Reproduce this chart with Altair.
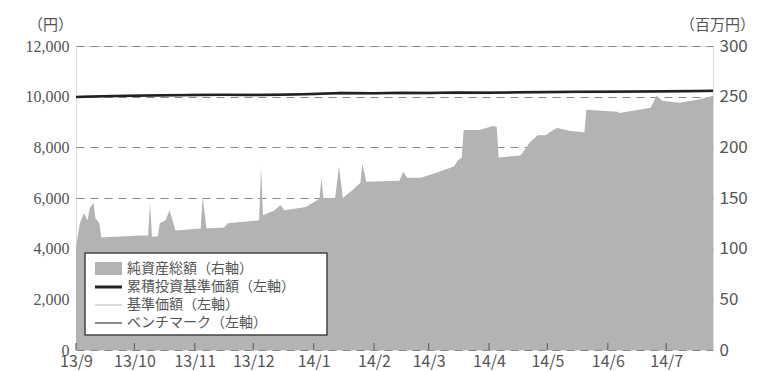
import altair as alt
import pandas as pd

# ---- data ----
area_dates = [
    "2013-09-01", "2013-09-03", "2013-09-05", "2013-09-07", "2013-09-08", "2013-09-10",
    "2013-09-11", "2013-09-13", "2013-09-14", "2013-09-24", "2013-10-04", "2013-10-08",
    "2013-10-09", "2013-10-10", "2013-10-13", "2013-10-14", "2013-10-17", "2013-10-19",
    "2013-10-21", "2013-10-22", "2013-11-04", "2013-11-05", "2013-11-07", "2013-11-16",
    "2013-11-18", "2013-11-29", "2013-12-04", "2013-12-05", "2013-12-06", "2013-12-12",
    "2013-12-15", "2013-12-17", "2013-12-28", "2014-01-03", "2014-01-04", "2014-01-05",
    "2014-01-06", "2014-01-12", "2014-01-14", "2014-01-16", "2014-01-21", "2014-01-25",
    "2014-01-26", "2014-01-28", "2014-02-14", "2014-02-16", "2014-02-18", "2014-02-25",
    "2014-03-05", "2014-03-14", "2014-03-16", "2014-03-18", "2014-03-19", "2014-03-27",
    "2014-04-03", "2014-04-05", "2014-04-06", "2014-04-17", "2014-04-18", "2014-04-22",
    "2014-04-26", "2014-04-30", "2014-05-04", "2014-05-06", "2014-05-13", "2014-05-20",
    "2014-05-21", "2014-06-06", "2014-06-07", "2014-06-23", "2014-06-26", "2014-06-29",
    "2014-07-08", "2014-07-17", "2014-07-25",
]
area_values = [
    102, 125, 135, 128, 140, 145,
    130, 125, 111, 112, 113, 113,
    145, 112, 112, 125, 128, 138,
    125, 118, 120, 151, 120, 121,
    125, 127, 128, 181, 133, 138,
    143, 138, 141, 148, 150, 170,
    150, 150, 181, 150, 158, 165,
    184, 166, 167, 176, 170, 170,
    175, 181, 187, 190, 217, 217,
    221, 220, 190, 192, 194, 205,
    212, 212, 217, 219, 216, 215,
    237, 235, 234, 239, 251, 246,
    244, 247, 251,
]

line_dates = [
    "2013-09-01", "2013-09-15", "2013-10-01", "2013-10-15", "2013-11-01", "2013-11-15",
    "2013-12-01", "2013-12-15", "2014-01-01", "2014-01-15", "2014-02-01", "2014-02-15",
    "2014-03-01", "2014-03-15", "2014-04-01", "2014-04-15", "2014-05-01", "2014-05-15",
    "2014-06-01", "2014-06-15", "2014-07-01", "2014-07-15", "2014-07-25",
]
accum_values = [
    9990, 10020, 10040, 10060, 10070, 10080,
    10070, 10080, 10110, 10140, 10130, 10150,
    10140, 10160, 10150, 10170, 10180, 10190,
    10190, 10200, 10210, 10220, 10230,
]
nav_values = [
    9980, 10000, 10010, 10030, 10040, 10050,
    10040, 10050, 10080, 10110, 10100, 10120,
    10110, 10130, 10120, 10140, 10150, 10160,
    10160, 10170, 10180, 10190, 10200,
]
bench_values = [
    9990, 10030, 10050, 10050, 10080, 10070,
    10080, 10090, 10120, 10150, 10140, 10140,
    10150, 10150, 10160, 10160, 10170, 10180,
    10200, 10190, 10200, 10210, 10220,
]

month_ticks = [
    "2013-09-01", "2013-10-01", "2013-11-01", "2013-12-01", "2014-01-01", "2014-02-01",
    "2014-03-01", "2014-04-01", "2014-05-01", "2014-06-01", "2014-07-01",
]
left_ticks = [0, 2000, 4000, 6000, 8000, 10000, 12000]
right_ticks = [0, 50, 100, 150, 200, 250, 300]

legend_labels = ["純資産総額（右軸）", "累積投資基準価額（左軸）", "基準価額（左軸）", "ベンチマーク（左軸）"]

# ---- frames ----
df_area = pd.DataFrame({"date": pd.to_datetime(area_dates), "value": area_values})
df_line = pd.DataFrame({
    "date": pd.to_datetime(line_dates),
    "accum": accum_values,
    "nav": nav_values,
    "bench": bench_values,
})
df_ticks = pd.DataFrame({"date": pd.to_datetime(month_ticks)})

FONT = "Noto Sans CJK JP"
TXT = "#555555"

tick_dt = [alt.DateTime(year=int(d[:4]), month=int(d[5:7]), date=1) for d in month_ticks]
x_scale = alt.Scale(domain=[alt.DateTime(year=2013, month=9, date=1),
                            alt.DateTime(year=2014, month=7, date=25)])
x_axis = alt.Axis(values=tick_dt, format="%y/%-m", labelAngle=0, labelAlign="center",
                  ticks=False, domain=False, grid=False, labelFontSize=16, labelColor=TXT,
                  labelFont=FONT, labelPadding=3, title=None, labelOverlap=False,
                  labelBound=False, labelFlush=False)
x_enc = alt.X("date:T", scale=x_scale, axis=x_axis)

area = alt.Chart(df_area).mark_area(color="#b3b3b3", interpolate="linear").encode(
    x=x_enc,
    y=alt.Y("value:Q", scale=alt.Scale(domain=[0, 300], nice=False),
            axis=alt.Axis(orient="right", values=right_ticks, grid=False, domain=False,
                          ticks=False, labelFontSize=17, labelColor=TXT, labelFont=FONT,
                          labelPadding=6, title="（百万円）", titleAngle=0, titleX=4,
                          titleY=-22, titleAlign="center", titleBaseline="middle",
                          titleFontSize=15, titleFontWeight="normal", titleColor=TXT,
                          titleFont=FONT)),
)

left_scale = alt.Scale(domain=[0, 12000], nice=False)
left_axis = alt.Axis(orient="left", values=left_ticks,
                     labelExpr="format(datum.value, ',')", grid=True,
                     gridDash=[8, 6], gridColor="#888888", gridWidth=1, domain=False,
                     ticks=False, labelFontSize=16, labelFont="Liberation Sans Narrow",
                     labelColor=TXT, labelPadding=7, title="（円）", titleAngle=0,
                     titleX=-26, titleY=-22, titleAlign="center", titleBaseline="middle",
                     titleFontSize=15, titleFontWeight="normal", titleColor=TXT,
                     titleFont=FONT)

l_nav = alt.Chart(df_line).mark_line(color="#cccccc", strokeWidth=1.2).encode(
    x=x_enc, y=alt.Y("nav:Q", scale=left_scale, axis=left_axis))
l_bench = alt.Chart(df_line).mark_line(color="#8a8a8a", strokeWidth=2).encode(
    x=x_enc, y=alt.Y("bench:Q", scale=left_scale, axis=left_axis))
l_accum = alt.Chart(df_line).mark_line(color="#222222", strokeWidth=2.5).encode(
    x=x_enc, y=alt.Y("accum:Q", scale=left_scale, axis=left_axis))
lines = alt.layer(l_nav, l_bench, l_accum)

ticks = alt.Chart(df_ticks).mark_rule(color="#666666", strokeWidth=1.2).encode(
    x=x_enc, y=alt.value(304), y2=alt.value(297))

# ---- legend ----
one = pd.DataFrame({"k": [0]})
box = alt.Chart(one).mark_rect(fill="white", stroke="#444444", strokeWidth=1.5).encode(
    x=alt.value(9), x2=alt.value(251), y=alt.value(207), y2=alt.value(289))
sym_area = alt.Chart(one).mark_rect(fill="#b3b3b3").encode(
    x=alt.value(19), x2=alt.value(46), y=alt.value(216), y2=alt.value(229))
sym1 = alt.Chart(one).mark_rule(color="#222222", strokeWidth=3).encode(
    x=alt.value(19), x2=alt.value(46), y=alt.value(241))
sym2 = alt.Chart(one).mark_rule(color="#cccccc", strokeWidth=1.5).encode(
    x=alt.value(19), x2=alt.value(46), y=alt.value(259))
sym3 = alt.Chart(one).mark_rule(color="#8a8a8a", strokeWidth=2).encode(
    x=alt.value(19), x2=alt.value(46), y=alt.value(277))

texts = []
for lab, yy in zip(legend_labels, [223, 241, 259, 277]):
    texts.append(
        alt.Chart(pd.DataFrame({"t": [lab]})).mark_text(
            align="left", baseline="middle", font=FONT, fontSize=14, color=TXT
        ).encode(x=alt.value(51), y=alt.value(yy), text="t:N")
    )

chart = alt.layer(area, lines, ticks, box, sym_area, sym1, sym2, sym3, *texts).resolve_scale(
    y="independent"
).properties(
    width=637, height=304,
    autosize=alt.AutoSizeParams(type="none"),
    padding={"left": 76, "top": 46, "right": 47, "bottom": 22},
).configure_view(
    stroke="#888888", strokeWidth=2
).configure(background="white")

chart.save("out.html", embed_options={"renderer": "svg", "actions": False})
